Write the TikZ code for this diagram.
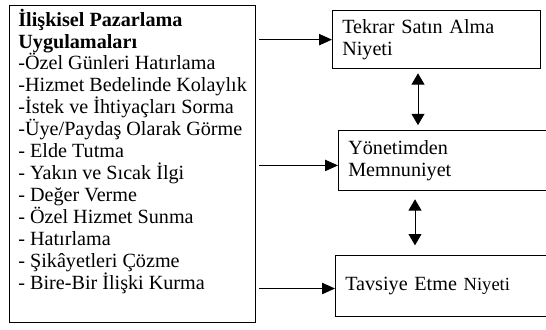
\documentclass[tikz,border=0pt]{standalone}
\usepackage{fontspec}
\setmainfont{Liberation Serif}
\usetikzlibrary{arrows.meta}

\begin{document}
\begin{tikzpicture}[x=0.62pt, y=-0.62pt,
  block/.style={rectangle, draw, line width=0.75pt, align=left, anchor=north west, inner xsep=6pt, font=\fontsize{12.5}{13.6}\selectfont},
  arrow/.style={-{Triangle[length=8pt,width=7pt]}, line width=0.6pt},
  twoway/.style={{Triangle[length=7pt,width=8pt]}-{Triangle[length=7pt,width=8pt]}, line width=0.6pt}]

\useasboundingbox (0,0) rectangle (546,330);
\clip (0,0) rectangle (546,330);

\node[block, minimum width=152.5pt, inner xsep=4pt, inner ysep=2pt, text depth=18.5pt] (practice) at (9,5) {\textbf{İlişkisel Pazarlama}\\\textbf{Uygulamaları}\\-Özel Günleri Hatırlama\\-Hizmet Bedelinde Kolaylık\\-İstek ve İhtiyaçları Sorma\\-Üye/Paydaş Olarak Görme\\- Elde Tutma\\- Yakın ve Sıcak İlgi\\- Değer Verme\\- Özel Hizmet Sunma\\- Hatırlama\\- Şikâyetleri Çözme\\- Bire-Bir İlişki Kurma};

\node[block, text width=117pt, minimum height=36pt] (repurchase) at (332,10) {Tekrar Satın Alma\\Niyeti};
\node[block, text width=140pt, minimum height=37.2pt] (satisfaction) at (338,130) {Yönetimden\\Memnuniyet};
\node[block, text width=140pt, minimum height=37.8pt] (referral) at (335,255) {Tavsiye Etme {\fontsize{11.5}{13}\selectfont Niyeti}};

\coordinate (axisA) at (418,0);
\coordinate (axisB) at (415,0);

\draw[arrow] ([xshift=2pt]practice.east |- repurchase.west) -- (repurchase.west);
\draw[arrow] ([xshift=2pt,yshift=-3pt]practice.east |- satisfaction.west) -- ([yshift=-3pt]satisfaction.west);
\draw[arrow] ([xshift=2pt,yshift=-1.5pt]practice.east |- referral.west) -- ([yshift=-1.5pt]referral.west);

\draw[twoway, shorten <=2.5pt, shorten >=3pt] (repurchase.south -| axisA) -- (satisfaction.north -| axisA);
\draw[twoway, shorten <=5pt, shorten >=6pt] (satisfaction.south -| axisB) -- (referral.north -| axisB);
\end{tikzpicture}
\end{document}
